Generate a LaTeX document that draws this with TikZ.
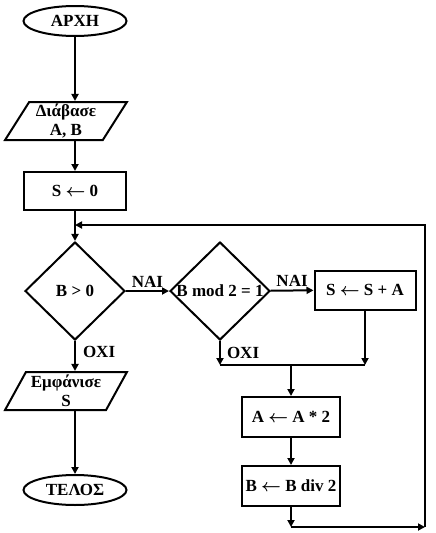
\documentclass[tikz,border=0pt]{standalone}
\usepackage{fontspec}
\setmainfont{Liberation Serif}
\usetikzlibrary{shapes.geometric,arrows.meta}
\newcommand{\getsarrow}{{\boldmath$\leftarrow$}}
\begin{document}
\begin{tikzpicture}[x=1pt,y=-1pt,
  every node/.style={font=\fontsize{17}{19}\selectfont\bfseries, inner sep=0pt},
  ln/.style={line width=2pt},
  arr/.style={ln,-{Triangle[length=7pt,width=7pt]}},
  term/.style={ellipse,draw,ln,minimum width=103pt,minimum height=30pt},
  io/.style={trapezium,trapezium left angle=60,trapezium right angle=120,trapezium stretches=true,draw,ln,minimum width=122pt,minimum height=38pt,align=center},
  proc/.style={rectangle,draw,ln,minimum width=101pt,minimum height=39pt},
  dec/.style={diamond,draw,ln,minimum width=100pt,minimum height=98pt}]
\useasboundingbox (0,0) rectangle (436,533);
\node[term] (start) at (75,21) {ΑΡΧΗ};
\node[io] (read) at (66,121) {Διάβασε\\A, B};
\node[proc, minimum width=102pt, minimum height=38pt] (init) at (75,191) {S \getsarrow{} 0};
\coordinate (loopin) at (75,225);
\node[dec, label=center:{B > 0}] (d1) at (75,291) {};
\node[dec, label=center:{B mod 2 = 1}] (d2) at (220,291) {};
\node[proc] (add) at (365,290) {S \getsarrow{} S + A};
\node[io] (show) at (66,391) {Εμφάνισε\\S};
\node[term] (end) at (75,490) {ΤΕΛΟΣ};
\coordinate (merge) at (291,365);
\node[proc, minimum width=98pt, minimum height=40pt] (dbl) at (291,417) {A \getsarrow{} A * 2};
\node[proc, minimum width=98pt, minimum height=40pt] (half) at (291,486) {B \getsarrow{} B div 2};
\coordinate (bot) at (291,527);
\coordinate (corner) at (425,527);
\coordinate (topc) at (425,225);

\draw[arr] (start) -- (start |- read.north);
\draw[arr] (start |- read.south) -- (init.north);
\draw[arr] (init) -- (d1);
\draw[arr] (d1) -- node[above=3pt]{ΝΑΙ} (d2);
\draw[arr] (d2) -- node[above=3pt]{ΝΑΙ} (add);
\draw[arr] (d1) -- node[right=7pt,pos=0.35]{ΟΧΙ} (d1 |- show.north);
\draw[arr] (d1 |- show.south) -- (end);
\draw[arr] (d2.south) -- node[right=6pt]{ΟΧΙ} (d2 |- merge);
\draw[arr] (add) -- (add |- merge);
\draw[ln] (d2 |- merge) -- (add |- merge);
\draw[arr] (merge) -- (dbl);
\draw[arr] (dbl) -- (half);
\draw[arr] (half) -- (bot);
\draw[arr] (bot) -- (corner);
\draw[arr] (corner) -- (topc) -- (loopin);
\end{tikzpicture}
\end{document}
